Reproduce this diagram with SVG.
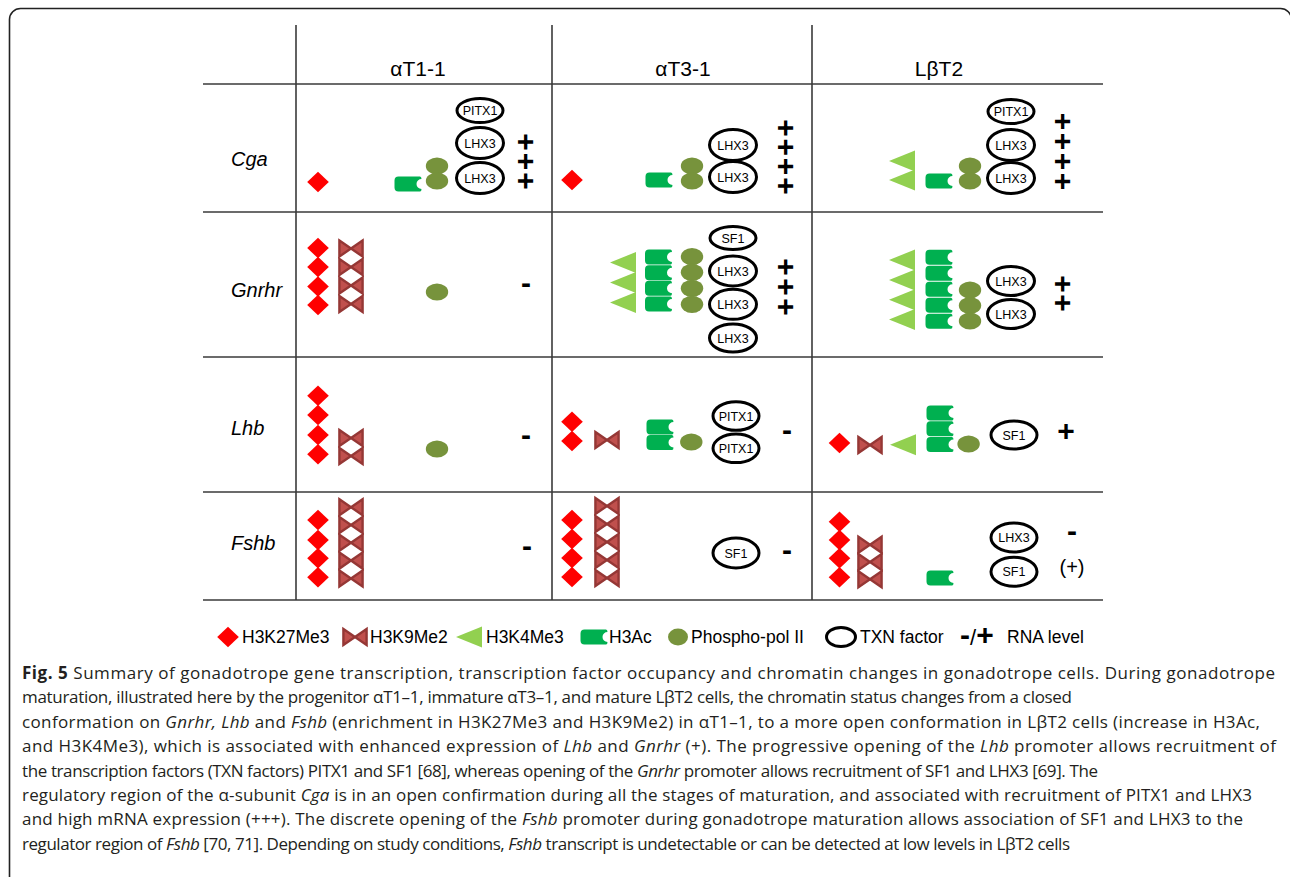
<svg xmlns="http://www.w3.org/2000/svg" width="1290" height="877" viewBox="0 0 1290 877">
<style>
.grid line{stroke:#3a3a3a;stroke-width:1.6}
.hd{font:21px "Liberation Sans",Arial,sans-serif;text-anchor:middle;fill:#000}
.gn{font:italic 20px "Liberation Sans",Arial,sans-serif;fill:#000}
.dia{fill:#ff0000}
.bow polygon{fill:#c0504d;stroke:#953735;stroke-width:2.4;stroke-linejoin:miter}
.tri{fill:#92d050}
.ac{fill:#00b050}
.pol{fill:#77933c}
.txn{fill:#fff;stroke:#000;stroke-width:3}
.t{font:12.5px "Liberation Sans",Arial,sans-serif;text-anchor:middle;fill:#000}
.pl{font:bold 30px "Liberation Sans",Arial,sans-serif;text-anchor:middle;fill:#000}
.plv{font:bold 30px "Liberation Sans",Arial,sans-serif;writing-mode:vertical-rl;fill:#000}
.lg{font:17.5px "Liberation Sans",Arial,sans-serif;fill:#000}
.cap{font:17px "Open Sans","Liberation Sans",sans-serif;fill:#231f20}
.cap .i{font-style:italic}
.cap .b{font-weight:bold}
</style>
<defs>
<path id="dia" class="dia" d="M0,-10.3 L10.8,0 L0,10.3 L-10.8,0Z"/>
<g id="bow" class="bow"><polygon points="-11.6,-8 0,0 -11.6,8"/><polygon points="11.6,-8 0,0 11.6,8"/></g>
<path id="tri" class="tri" d="M13,-10.5 L13,10.5 L-13,0Z"/>
<path id="ac" class="ac" d="M-9.5,-7.5 H12 Q13.5,-7.5 13.5,-5 A5 5 0 0 0 13.5,5 Q13.5,7.5 12,7.5 H-9.5 Q-13.5,7.5 -13.5,3.5 V-3.5 Q-13.5,-7.5 -9.5,-7.5Z"/>
<ellipse id="pol" class="pol" rx="11.2" ry="8.6"/>
</defs>

<rect x="9.5" y="8.5" width="1282" height="880" rx="11" fill="none" stroke="#222" stroke-width="1.6"/>

<g id="grid" class="grid">
<line x1="296" y1="25" x2="296" y2="600"/>
<line x1="552" y1="25" x2="552" y2="600"/>
<line x1="812" y1="25" x2="812" y2="600"/>
<line x1="203" y1="84" x2="1103" y2="84"/>
<line x1="203" y1="212" x2="1103" y2="212"/>
<line x1="203" y1="357" x2="1103" y2="357"/>
<line x1="203" y1="492" x2="1103" y2="492"/>
<line x1="203" y1="600" x2="1103" y2="600"/>
</g>

<g id="connectors"/>

<g id="header">
<text class="hd" x="418" y="76">αT1-1</text>
<text class="hd" x="683" y="76">αT3-1</text>
<text class="hd" x="939" y="76">LβT2</text>
</g>

<g id="genes">
<text class="gn" x="231" y="165.5">Cga</text>
<text class="gn" x="231" y="297">Gnrhr</text>
<text class="gn" x="231" y="435">Lhb</text>
<text class="gn" x="231" y="550">Fshb</text>
</g>

<!-- Row Cga -->
<g id="cga-at1">
<use href="#dia" x="318" y="182"/>
<use href="#ac" x="408" y="184"/>
<use href="#pol" x="437" y="166"/><use href="#pol" x="437" y="181"/>
<ellipse class="txn" cx="480" cy="110.5" rx="23" ry="12"/><text class="t" x="480" y="115">PITX1</text>
<ellipse class="txn" cx="480" cy="143" rx="23.5" ry="15.5"/><text class="t" x="480" y="147.5">LHX3</text>
<ellipse class="txn" cx="480" cy="178" rx="23.5" ry="15.5"/><text class="t" x="480" y="182.5">LHX3</text>
<text class="plv" x="526" y="133.2" style="letter-spacing:2px">+++</text>
</g>
<g id="cga-at3">
<use href="#dia" x="572" y="180"/>
<use href="#ac" x="659" y="180"/>
<use href="#pol" x="692" y="166"/><use href="#pol" x="692" y="181"/>
<ellipse class="txn" cx="733" cy="145" rx="23.5" ry="15.5"/><text class="t" x="733" y="149.5">LHX3</text>
<ellipse class="txn" cx="733" cy="177" rx="23.5" ry="15.5"/><text class="t" x="733" y="181.5">LHX3</text>
<text class="plv" x="786" y="119.2" style="letter-spacing:1.8px">++++</text>
</g>
<g id="cga-lbt2">
<use href="#tri" x="902" y="161"/><use href="#tri" x="902" y="180"/>
<use href="#ac" x="939" y="181"/>
<use href="#pol" x="970" y="166"/><use href="#pol" x="970" y="181"/>
<ellipse class="txn" cx="1011" cy="111.5" rx="23" ry="12"/><text class="t" x="1011" y="116">PITX1</text>
<ellipse class="txn" cx="1011" cy="145" rx="23.5" ry="15.5"/><text class="t" x="1011" y="149.5">LHX3</text>
<ellipse class="txn" cx="1011" cy="178" rx="23.5" ry="15.5"/><text class="t" x="1011" y="182.5">LHX3</text>
<text class="plv" x="1063" y="112.7" style="letter-spacing:2.5px">++++</text>
</g>

<!-- Row Gnrhr -->
<g id="gnrhr-at1">
<use href="#dia" x="318" y="248"/><use href="#dia" x="318" y="267"/><use href="#dia" x="318" y="286.5"/><use href="#dia" x="318" y="305"/>
<use href="#bow" x="351" y="248.5"/><use href="#bow" x="351" y="267"/><use href="#bow" x="351" y="285.5"/><use href="#bow" x="351" y="304"/>
<use href="#pol" x="437" y="292"/>
<text class="pl" x="526" y="293">-</text>
</g>
<g id="gnrhr-at3">
<use href="#tri" x="623" y="262.5"/><use href="#tri" x="623" y="282.5"/><use href="#tri" x="623" y="302.5"/>
<use href="#ac" x="658.5" y="257"/><use href="#ac" x="658.5" y="272.7"/><use href="#ac" x="658.5" y="288.3"/><use href="#ac" x="658.5" y="304"/>
<use href="#pol" x="692" y="256.7"/><use href="#pol" x="692" y="272.3"/><use href="#pol" x="692" y="288.3"/><use href="#pol" x="692" y="304.3"/>
<ellipse class="txn" cx="733" cy="238" rx="23" ry="11.5"/><text class="t" x="733" y="242.5">SF1</text>
<ellipse class="txn" cx="733" cy="271" rx="23.5" ry="15"/><text class="t" x="733" y="275.5">LHX3</text>
<ellipse class="txn" cx="733" cy="304.3" rx="23.5" ry="15"/><text class="t" x="733" y="308.8">LHX3</text>
<ellipse class="txn" cx="733" cy="338" rx="23.5" ry="14"/><text class="t" x="733" y="342.5">LHX3</text>
<text class="plv" x="786" y="258.2" style="letter-spacing:2.5px">+++</text>
</g>
<g id="gnrhr-lbt2">
<use href="#tri" x="902" y="260"/><use href="#tri" x="902" y="280"/><use href="#tri" x="902" y="299.7"/><use href="#tri" x="902" y="319.4"/>
<use href="#ac" x="939" y="257.3"/><use href="#ac" x="939" y="273.3"/><use href="#ac" x="939" y="289.3"/><use href="#ac" x="939" y="305.3"/><use href="#ac" x="939" y="321.3"/>
<use href="#pol" x="970" y="290"/><use href="#pol" x="970" y="305.5"/><use href="#pol" x="970" y="321"/>
<ellipse class="txn" cx="1011" cy="281" rx="23.5" ry="14.5"/><text class="t" x="1011" y="285.5">LHX3</text>
<ellipse class="txn" cx="1011" cy="314" rx="23.5" ry="14.5"/><text class="t" x="1011" y="318.5">LHX3</text>
<text class="plv" x="1063" y="275.2" style="letter-spacing:1.5px">++</text>
</g>

<!-- Row Lhb -->
<g id="lhb-at1">
<use href="#dia" x="318" y="395.7"/><use href="#dia" x="318" y="415"/><use href="#dia" x="318" y="435"/><use href="#dia" x="318" y="454.3"/>
<use href="#bow" x="351" y="438"/><use href="#bow" x="351" y="456"/>
<use href="#pol" x="437" y="449"/>
<text class="pl" x="526" y="445">-</text>
</g>
<g id="lhb-at3">
<use href="#dia" x="572" y="421.7"/><use href="#dia" x="572" y="441"/>
<use href="#bow" x="607" y="440"/>
<use href="#ac" x="660" y="427"/><use href="#ac" x="660" y="442.5"/>
<use href="#pol" x="691.3" y="442"/>
<ellipse class="txn" cx="736" cy="416" rx="23" ry="14.3"/><text class="t" x="736" y="420.5">PITX1</text>
<ellipse class="txn" cx="736" cy="448.3" rx="23" ry="14.3"/><text class="t" x="736" y="452.8">PITX1</text>
<text class="pl" x="787" y="440">-</text>
</g>
<g id="lhb-lbt2">
<use href="#dia" x="839.5" y="443"/>
<use href="#bow" x="870" y="445"/>
<use href="#tri" x="903" y="444.7"/>
<use href="#ac" x="940" y="413"/><use href="#ac" x="940" y="428.7"/><use href="#ac" x="940" y="444.5"/>
<use href="#pol" x="968.6" y="444"/>
<ellipse class="txn" cx="1014" cy="435" rx="23" ry="14"/><text class="t" x="1014" y="439.5">SF1</text>
<text class="pl" x="1066" y="440.5">+</text>
</g>

<!-- Row Fshb -->
<g id="fshb-at1">
<use href="#dia" x="318" y="520"/><use href="#dia" x="318" y="540"/><use href="#dia" x="318" y="558.3"/><use href="#dia" x="318" y="577.3"/>
<use href="#bow" x="351" y="507.2"/><use href="#bow" x="351" y="525"/><use href="#bow" x="351" y="542.8"/><use href="#bow" x="351" y="560.6"/><use href="#bow" x="351" y="578.4"/>
<text class="pl" x="527" y="556">-</text>
</g>
<g id="fshb-at3">
<use href="#dia" x="572" y="520"/><use href="#dia" x="572" y="539"/><use href="#dia" x="572" y="558"/><use href="#dia" x="572" y="577"/>
<use href="#bow" x="607" y="506"/><use href="#bow" x="607" y="524"/><use href="#bow" x="607" y="542"/><use href="#bow" x="607" y="560"/><use href="#bow" x="607" y="578"/>
<ellipse class="txn" cx="736" cy="553" rx="23" ry="15"/><text class="t" x="736" y="557.5">SF1</text>
<text class="pl" x="787" y="560">-</text>
</g>
<g id="fshb-lbt2">
<use href="#dia" x="839.5" y="521.7"/><use href="#dia" x="839.5" y="540"/><use href="#dia" x="839.5" y="558.3"/><use href="#dia" x="839.5" y="577.3"/>
<use href="#bow" x="870" y="544.7"/><use href="#bow" x="870" y="562"/><use href="#bow" x="870" y="579.3"/>
<use href="#ac" x="940" y="578"/>
<ellipse class="txn" cx="1014" cy="537.5" rx="23" ry="14.5"/><text class="t" x="1014" y="542">LHX3</text>
<ellipse class="txn" cx="1014" cy="571.7" rx="23" ry="14.5"/><text class="t" x="1014" y="576.2">SF1</text>
<text class="pl" x="1072" y="541">-</text>
<text style="font:20px 'Liberation Sans',Arial,sans-serif;text-anchor:middle" x="1072" y="574">(+)</text>
</g>

<!-- Legend -->
<g id="legend">
<use href="#dia" x="228" y="637"/>
<text class="lg" x="242" y="643">H3K27Me3</text>
<use href="#bow" x="355" y="637"/>
<text class="lg" x="370" y="643">H3K9Me2</text>
<use href="#tri" x="469" y="637"/>
<text class="lg" x="486" y="643">H3K4Me3</text>
<use href="#ac" x="594" y="637"/>
<text class="lg" x="609" y="643">H3Ac</text>
<ellipse class="pol" cx="678" cy="637" rx="10" ry="8.5"/>
<text class="lg" x="691" y="643">Phospho-pol II</text>
<ellipse class="txn" cx="841" cy="637" rx="14.5" ry="9.5"/>
<text class="lg" x="860" y="643">TXN factor</text>
<text class="lg" x="960" y="645"><tspan style="font-weight:bold;font-size:30px">-</tspan><tspan style="font-size:22px">/</tspan><tspan style="font-weight:bold;font-size:30px">+</tspan></text>
<text class="lg" x="1007" y="643">RNA level</text>
</g>

<!-- Caption -->
<g id="caption" class="cap">
<text x="22" y="679" textLength="1253"><tspan class="b">Fig. 5</tspan> Summary of gonadotrope gene transcription, transcription factor occupancy and chromatin changes in gonadotrope cells. During gonadotrope</text>
<text x="22" y="703.4" textLength="1050">maturation, illustrated here by the progenitor αT1–1, immature αT3–1, and mature LβT2 cells, the chromatin status changes from a closed</text>
<text x="22" y="727.8" textLength="1238">conformation on <tspan class="i">Gnrhr, Lhb</tspan> and <tspan class="i">Fshb</tspan> (enrichment in H3K27Me3 and H3K9Me2) in αT1–1, to a more open conformation in LβT2 cells (increase in H3Ac,</text>
<text x="22" y="752.2" textLength="1254">and H3K4Me3), which is associated with enhanced expression of <tspan class="i">Lhb</tspan> and <tspan class="i">Gnrhr</tspan> (+). The progressive opening of the <tspan class="i">Lhb</tspan> promoter allows recruitment of</text>
<text x="22" y="776.6" textLength="1076">the transcription factors (TXN factors) PITX1 and SF1 [68], whereas opening of the <tspan class="i">Gnrhr</tspan> promoter allows recruitment of SF1 and LHX3 [69]. The</text>
<text x="22" y="801" textLength="1230">regulatory region of the α-subunit <tspan class="i">Cga</tspan> is in an open confirmation during all the stages of maturation, and associated with recruitment of PITX1 and LHX3</text>
<text x="22" y="825.4" textLength="1221">and high mRNA expression (+++). The discrete opening of the <tspan class="i">Fshb</tspan> promoter during gonadotrope maturation allows association of SF1 and LHX3 to the</text>
<text x="22" y="849.8" textLength="1048">regulator region of <tspan class="i">Fshb</tspan> [70, 71]. Depending on study conditions, <tspan class="i">Fshb</tspan> transcript is undetectable or can be detected at low levels in LβT2 cells</text>
</g>
</svg>
